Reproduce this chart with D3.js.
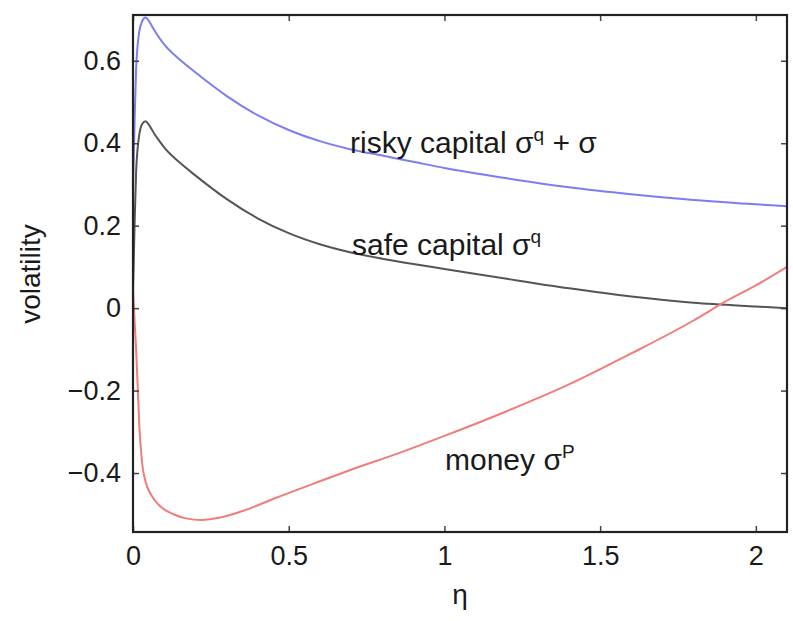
<!DOCTYPE html>
<html><head><meta charset="utf-8">
<script src="https://cdn.jsdelivr.net/npm/d3@7"></script>
<style>body{margin:0;background:#fff}svg{display:block}text{font-family:"Liberation Sans",Arial,sans-serif;fill:#1a1a1a}</style>
</head><body><svg id="c" width="793" height="621"></svg>
<script>
const etaRisky = [0,0.005,0.01,0.02,0.03,0.04,0.05,0.06,0.07,0.085,0.1,0.15,0.2,0.3,0.4,0.5,0.6,0.7,0.8,0.9,1.0,1.2,1.4,1.6,1.8,2.0,2.1];
const risky    = [0.29,0.45,0.58,0.67,0.697,0.705,0.698,0.685,0.672,0.655,0.64,0.603,0.572,0.515,0.468,0.432,0.405,0.385,0.37,0.355,0.34,0.315,0.293,0.276,0.262,0.252,0.247];
const etaSafe  = [0,0.005,0.01,0.02,0.03,0.04,0.05,0.06,0.07,0.085,0.1,0.15,0.2,0.3,0.4,0.5,0.6,0.7,0.8,0.9,1.0,1.2,1.4,1.6,1.8,2.0,2.1];
const safe     = [0.04,0.2,0.33,0.42,0.447,0.453,0.446,0.434,0.421,0.405,0.39,0.353,0.322,0.265,0.218,0.182,0.155,0.135,0.12,0.107,0.095,0.071,0.048,0.028,0.013,0.004,0.0];
const etaMoney = [0,0.005,0.01,0.015,0.02,0.03,0.04,0.06,0.08,0.1,0.13,0.17,0.22,0.28,0.36,0.46,0.6,0.7,0.86,1.0,1.2,1.4,1.6,1.8,1.9,2.0,2.1];
const money    = [0.05,-0.03,-0.1,-0.19,-0.28,-0.38,-0.42,-0.455,-0.475,-0.488,-0.5,-0.51,-0.514,-0.508,-0.49,-0.46,-0.42,-0.392,-0.35,-0.31,-0.25,-0.185,-0.11,-0.03,0.015,0.055,0.1];
const xTicks = [0,0.5,1,1.5,2];
const xTickLabels = ["0","0.5","1","1.5","2"];
const yTicks = [-0.4,-0.2,0,0.2,0.4,0.6];
const yTickLabels = ["\u22120.4","\u22120.2","0","0.2","0.4","0.6"];

const L=133,R=787,T=15,B=532;
const x=d3.scaleLinear().domain([0,2.1]).range([L,R]);
const y=d3.scaleLinear().domain([-0.543,0.711]).range([B,T]);
const svg=d3.select("#c");

const line=d3.line().x(d=>x(d[0])).y(d=>y(d[1])).curve(d3.curveMonotoneX);
const series=[
  {e:etaRisky,v:risky,c:"#7d7df2"},
  {e:etaSafe,v:safe,c:"#555555"},
  {e:etaMoney,v:money,c:"#f07c7c"}
];
svg.append("clipPath").attr("id","cp").append("rect").attr("x",L).attr("y",T).attr("width",R-L).attr("height",B-T);
svg.append("g").attr("clip-path","url(#cp)").selectAll("path").data(series).join("path")
  .attr("d",s=>line(s.e.map((e,i)=>[e,s.v[i]])))
  .attr("fill","none").attr("stroke",s=>s.c).attr("stroke-width",2);

const fmtX=(d,i)=>xTickLabels[i], fmtY=(d,i)=>yTickLabels[i];
const ax=[
  {g:d3.axisBottom(x).tickValues(xTicks).tickFormat(fmtX).tickSizeInner(-6).tickSizeOuter(0).tickPadding(14),t:`translate(0,${B})`},
  {g:d3.axisTop(x).tickValues(xTicks).tickFormat("").tickSizeInner(-6).tickSizeOuter(0),t:`translate(0,${T})`},
  {g:d3.axisLeft(y).tickValues(yTicks).tickFormat(fmtY).tickSizeInner(-6).tickSizeOuter(0).tickPadding(12),t:`translate(${L},0)`},
  {g:d3.axisRight(y).tickValues(yTicks).tickFormat("").tickSizeInner(-6).tickSizeOuter(0),t:`translate(${R},0)`}
];
ax.forEach(a=>{
  const g=svg.append("g").attr("transform",a.t).call(a.g);
  g.select(".domain").remove();
  g.selectAll(".tick line").attr("stroke","#444").attr("stroke-width",1.5);
  g.selectAll("text").style("font-size","27px").attr("fill","#1a1a1a");
});
svg.append("rect").attr("x",L).attr("y",T).attr("width",R-L).attr("height",B-T)
  .attr("fill","none").attr("stroke","#222").attr("stroke-width",2.2);

svg.append("text").attr("x",(L+R)/2).attr("y",604).attr("text-anchor","middle").style("font-size","28px").text("\u03b7");
svg.append("text").attr("transform","translate(40,274) rotate(-90)").attr("text-anchor","middle").style("font-size","28px").text("volatility");

function ann(xp,yp,parts){
  const t=svg.append("text").attr("x",xp).attr("y",yp).style("font-size","30px");
  parts.forEach(p=>{
    const s=t.append("tspan").text(p.t);
    if(p.sup) s.attr("dy",-12).style("font-size","19px");
    if(p.back) s.attr("dy",12);
  });
}
ann(350,153,[{t:"risky capital \u03c3"},{t:"q",sup:true},{t:" + \u03c3",back:true}]);
ann(352,255,[{t:"safe capital \u03c3"},{t:"q",sup:true}]);
ann(445,470,[{t:"money \u03c3"},{t:"P",sup:true}]);
</script></body></html>
